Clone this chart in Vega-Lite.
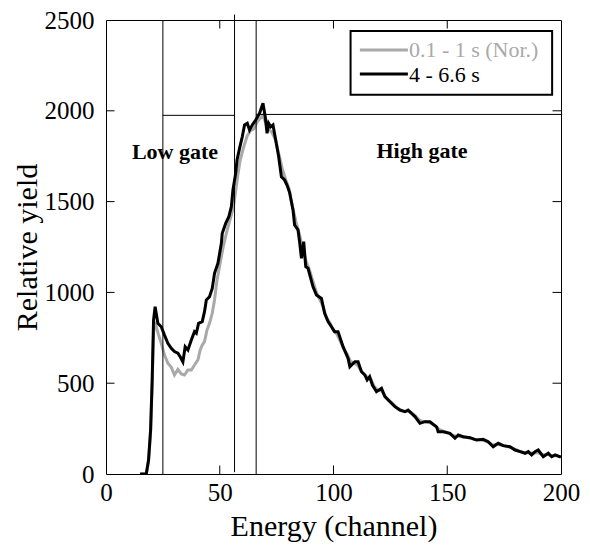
{
  "$schema": "https://vega.github.io/schema/vega-lite/v6.json",
  "autosize": {"type": "none"},
  "width": 455,
  "height": 454,
  "padding": {"left": 106, "top": 20, "right": 29, "bottom": 71},
  "background": "white",
  "config": {
    "view": {"stroke": "black", "strokeWidth": 1},
    "font": "Liberation Serif",
    "axis": {"grid": false, "domain": false, "ticks": false, "labelFont": "Liberation Serif", "titleFont": "Liberation Serif"}
  },
  "datasets": {
    "black": [
      {"ch":15,"yield":0},{"ch":17.7,"yield":0},{"ch":18.7,"yield":77},{"ch":19.6,"yield":242},{"ch":20.3,"yield":518},{"ch":20.9,"yield":848},{"ch":21.6,"yield":921},{"ch":22.8,"yield":830},{"ch":24.3,"yield":811},{"ch":25.7,"yield":765},{"ch":27.2,"yield":720},{"ch":28.7,"yield":692},{"ch":30.1,"yield":674},{"ch":31.6,"yield":665},{"ch":32.6,"yield":646},{"ch":33.8,"yield":618},{"ch":34.8,"yield":701},{"ch":36,"yield":683},{"ch":37.5,"yield":738},{"ch":38.9,"yield":784},{"ch":39.7,"yield":775},{"ch":40.7,"yield":830},{"ch":42.3,"yield":839},{"ch":43.3,"yield":894},{"ch":44.1,"yield":958},{"ch":45.5,"yield":976},{"ch":46.7,"yield":1022},{"ch":47.7,"yield":1105},{"ch":49.2,"yield":1160},{"ch":50.7,"yield":1270},{"ch":51.1,"yield":1325},{"ch":52.6,"yield":1380},{"ch":54,"yield":1417},{"ch":55.1,"yield":1472},{"ch":55.8,"yield":1564},{"ch":57,"yield":1656},{"ch":57.6,"yield":1729},{"ch":58.7,"yield":1793},{"ch":59.9,"yield":1857},{"ch":60.9,"yield":1922},{"ch":62.1,"yield":1931},{"ch":63.1,"yield":1894},{"ch":64.3,"yield":1922},{"ch":65.8,"yield":1949},{"ch":67.5,"yield":1986},{"ch":69,"yield":2041},{"ch":70,"yield":1967},{"ch":70.8,"yield":1876},{"ch":71.5,"yield":1931},{"ch":72.4,"yield":1912},{"ch":73.4,"yield":1922},{"ch":74.6,"yield":1839},{"ch":75.9,"yield":1747},{"ch":77.1,"yield":1637},{"ch":78.5,"yield":1619},{"ch":79.6,"yield":1590},{"ch":80.7,"yield":1550},{"ch":82.2,"yield":1454},{"ch":82.9,"yield":1371},{"ch":84.4,"yield":1344},{"ch":85.1,"yield":1279},{"ch":85.9,"yield":1188},{"ch":86.9,"yield":1279},{"ch":87.8,"yield":1142},{"ch":88.8,"yield":1133},{"ch":91,"yield":1031},{"ch":92.5,"yield":986},{"ch":94.7,"yield":967},{"ch":96.1,"yield":885},{"ch":97.6,"yield":839},{"ch":99.1,"yield":811},{"ch":100.5,"yield":784},{"ch":102,"yield":784},{"ch":104.2,"yield":701},{"ch":106.4,"yield":637},{"ch":107.2,"yield":591},{"ch":109.4,"yield":618},{"ch":110.8,"yield":618},{"ch":112.3,"yield":563},{"ch":113.8,"yield":545},{"ch":114.8,"yield":518},{"ch":115.9,"yield":536},{"ch":117.1,"yield":490},{"ch":118.9,"yield":453},{"ch":121.1,"yield":472},{"ch":122.6,"yield":426},{"ch":124.8,"yield":398},{"ch":127,"yield":371},{"ch":129.2,"yield":352},{"ch":131.4,"yield":343},{"ch":132.8,"yield":352},{"ch":134.3,"yield":334},{"ch":135.8,"yield":316},{"ch":138,"yield":279},{"ch":140.2,"yield":288},{"ch":142.4,"yield":288},{"ch":145.3,"yield":260},{"ch":146,"yield":233},{"ch":148.2,"yield":233},{"ch":151.2,"yield":224},{"ch":153.4,"yield":197},{"ch":154.8,"yield":215},{"ch":157,"yield":205},{"ch":160,"yield":200},{"ch":162.9,"yield":187},{"ch":165.8,"yield":191},{"ch":168,"yield":178},{"ch":170.2,"yield":150},{"ch":172.4,"yield":169},{"ch":174.6,"yield":156},{"ch":177.6,"yield":150},{"ch":179.8,"yield":132},{"ch":182,"yield":123},{"ch":184.2,"yield":114},{"ch":185.6,"yield":123},{"ch":187.1,"yield":105},{"ch":188.6,"yield":123},{"ch":190,"yield":132},{"ch":192.2,"yield":95},{"ch":194.4,"yield":114},{"ch":195.9,"yield":95},{"ch":197.4,"yield":105},{"ch":199.6,"yield":95},{"ch":200,"yield":92}
    ],
    "gray": [
      {"ch":15,"yield":0},{"ch":17.7,"yield":0},{"ch":18.7,"yield":70},{"ch":19.6,"yield":230},{"ch":20.3,"yield":500},{"ch":20.9,"yield":780},{"ch":21.6,"yield":840},{"ch":22.1,"yield":811},{"ch":23,"yield":770},{"ch":24.3,"yield":720},{"ch":25.7,"yield":655},{"ch":27.2,"yield":610},{"ch":28.7,"yield":588},{"ch":30.1,"yield":545},{"ch":31.6,"yield":576},{"ch":33.1,"yield":551},{"ch":34.5,"yield":545},{"ch":36,"yield":573},{"ch":37.5,"yield":573},{"ch":38.9,"yield":600},{"ch":40.4,"yield":628},{"ch":41.4,"yield":683},{"ch":42.3,"yield":710},{"ch":43.3,"yield":729},{"ch":44.4,"yield":793},{"ch":45.5,"yield":830},{"ch":46.7,"yield":885},{"ch":47.7,"yield":958},{"ch":48.8,"yield":1068},{"ch":50,"yield":1150},{"ch":51.5,"yield":1250},{"ch":53,"yield":1330},{"ch":54.5,"yield":1400},{"ch":56,"yield":1470},{"ch":57,"yield":1560},{"ch":58,"yield":1650},{"ch":59,"yield":1730},{"ch":60.5,"yield":1800},{"ch":62,"yield":1860},{"ch":63.5,"yield":1890},{"ch":65,"yield":1900},{"ch":66.5,"yield":1940},{"ch":68,"yield":1960},{"ch":69,"yield":1975},{"ch":70,"yield":1940},{"ch":71.5,"yield":1900},{"ch":73,"yield":1880},{"ch":74.5,"yield":1840},{"ch":76,"yield":1760},{"ch":77.5,"yield":1680},{"ch":79,"yield":1620},{"ch":80.5,"yield":1570},{"ch":82,"yield":1470},{"ch":83.5,"yield":1390},{"ch":85,"yield":1320},{"ch":86.5,"yield":1240},{"ch":88,"yield":1170},{"ch":89.5,"yield":1120},{"ch":91,"yield":1060},{"ch":92.5,"yield":1000},{"ch":94,"yield":960},{"ch":95.5,"yield":920},{"ch":97,"yield":860},{"ch":98.5,"yield":830},{"ch":100,"yield":790},{"ch":101.5,"yield":770},{"ch":103,"yield":730},{"ch":104.5,"yield":690},{"ch":106,"yield":660},{"ch":107.5,"yield":620},{"ch":109,"yield":610},{"ch":110.5,"yield":600},{"ch":112,"yield":570},{"ch":113.5,"yield":550},{"ch":115,"yield":530},{"ch":116.5,"yield":520},{"ch":118,"yield":480},{"ch":119.5,"yield":460},{"ch":121,"yield":460},{"ch":122.5,"yield":430},{"ch":124,"yield":410},{"ch":125.5,"yield":395},{"ch":127,"yield":375},{"ch":128.5,"yield":360},{"ch":130,"yield":350},{"ch":131.5,"yield":345},{"ch":133,"yield":345},{"ch":134.5,"yield":335},{"ch":136,"yield":320},{"ch":137.5,"yield":300},{"ch":139,"yield":290},{"ch":140.5,"yield":288},{"ch":142,"yield":285},{"ch":143.5,"yield":275},{"ch":145,"yield":262},{"ch":146.5,"yield":245},{"ch":148,"yield":238},{"ch":150,"yield":228},{"ch":152,"yield":215},{"ch":154,"yield":208},{"ch":156,"yield":205},{"ch":158,"yield":202},{"ch":160,"yield":198},{"ch":162,"yield":190},{"ch":164,"yield":188},{"ch":166,"yield":185},{"ch":168,"yield":175},{"ch":170,"yield":160},{"ch":172,"yield":165},{"ch":174,"yield":158},{"ch":176,"yield":152},{"ch":178,"yield":145},{"ch":180,"yield":135},{"ch":182,"yield":125},{"ch":184,"yield":118},{"ch":186,"yield":115},{"ch":188,"yield":115},{"ch":190,"yield":118},{"ch":192,"yield":105},{"ch":194,"yield":108},{"ch":196,"yield":100},{"ch":198,"yield":100},{"ch":200,"yield":95}
    ],
    "xticks": [{"v":50},{"v":100},{"v":150}],
    "yticks": [{"v":500},{"v":1000},{"v":1500},{"v":2000}],
    "gates": [
      {"x1":25,"x2":25,"y1":0,"y2":2500},
      {"x1":56.5,"x2":56.5,"y1":10,"y2":2530},
      {"x1":66,"x2":66,"y1":0,"y2":2500},
      {"x1":25,"x2":56.5,"y1":1975,"y2":1975},
      {"x1":66,"x2":200.5,"y1":1980,"y2":1980}
    ],
    "gatelabels": [
      {"x":11.4,"y":1735,"label":"Low gate"},
      {"x":118.9,"y":1738,"label":"High gate"}
    ],
    "legbox": [{"x1":107.5,"x2":196.1,"y1":2088,"y2":2440}],
    "legitems": [
      {"x1":111.6,"x2":132.7,"y":2335,"ty":2298,"series":"0.1 - 1 s (Nor.)"},
      {"x1":111.6,"x2":132.7,"y":2203,"ty":2160,"series":"4 - 6.6 s"}
    ]
  },
  "layer": [
    {
      "data": {"name": "gray"},
      "mark": {"type": "line", "color": "#a9a9a9", "strokeWidth": 3, "clip": true},
      "encoding": {
        "x": {"field": "ch", "type": "quantitative", "scale": {"domain": [0, 200], "nice": false},
          "axis": {"orient": "bottom", "values": [0, 50, 100, 150, 200], "format": "d", "ticks": false, "domain": false, "grid": false,
            "labelFont": "Liberation Serif", "labelFontSize": 25, "labelColor": "black", "labelFlush": false, "labelOverlap": false, "labelPadding": 6,
            "title": "Energy (channel)", "titleFont": "Liberation Serif", "titleFontSize": 30, "titleFontWeight": "normal", "titleColor": "black",
            "titleY": 61, "titleBaseline": "alphabetic"}},
        "y": {"field": "yield", "type": "quantitative", "scale": {"domain": [0, 2500], "nice": false},
          "axis": {"orient": "left", "values": [0, 500, 1000, 1500, 2000, 2500], "format": "d", "ticks": false, "domain": false, "grid": false,
            "labelFont": "Liberation Serif", "labelFontSize": 25, "labelColor": "black", "labelFlush": false, "labelOverlap": false, "labelPadding": 12, "labelBaseline": "middle",
            "title": "Relative yield", "titleFont": "Liberation Serif", "titleFontSize": 30, "titleFontWeight": "normal", "titleColor": "black",
            "titleX": -70, "titleY": 227, "titleAlign": "center", "titleAngle": -90, "titleBaseline": "alphabetic"}}
      }
    },
    {
      "data": {"name": "gates"},
      "mark": {"type": "rule", "color": "black", "strokeWidth": 1},
      "encoding": {
        "x": {"field": "x1", "type": "quantitative"},
        "x2": {"field": "x2"},
        "y": {"field": "y1", "type": "quantitative"},
        "y2": {"field": "y2"}
      }
    },
    {
      "data": {"name": "xticks"},
      "layer": [
        {"mark": {"type": "tick", "orient": "vertical", "size": 17, "thickness": 1, "color": "black", "opacity": 1, "clip": true},
         "encoding": {"x": {"field": "v", "type": "quantitative"}, "y": {"datum": 0, "type": "quantitative"}}},
        {"mark": {"type": "tick", "orient": "vertical", "size": 17, "thickness": 1, "color": "black", "opacity": 1, "clip": true},
         "encoding": {"x": {"field": "v", "type": "quantitative"}, "y": {"datum": 2500, "type": "quantitative"}}}
      ]
    },
    {
      "data": {"name": "yticks"},
      "layer": [
        {"mark": {"type": "tick", "orient": "horizontal", "size": 17, "thickness": 1, "color": "black", "opacity": 1, "clip": true},
         "encoding": {"y": {"field": "v", "type": "quantitative"}, "x": {"datum": 0, "type": "quantitative"}}},
        {"mark": {"type": "tick", "orient": "horizontal", "size": 17, "thickness": 1, "color": "black", "opacity": 1, "clip": true},
         "encoding": {"y": {"field": "v", "type": "quantitative"}, "x": {"datum": 200, "type": "quantitative"}}}
      ]
    },
    {
      "data": {"name": "black"},
      "mark": {"type": "line", "color": "black", "strokeWidth": 3, "clip": true},
      "encoding": {
        "x": {"field": "ch", "type": "quantitative"},
        "y": {"field": "yield", "type": "quantitative"}
      }
    },
    {
      "data": {"name": "gatelabels"},
      "mark": {"type": "text", "font": "Liberation Serif", "fontSize": 22, "fontWeight": "bold", "align": "left", "baseline": "alphabetic", "color": "black"},
      "encoding": {
        "x": {"field": "x", "type": "quantitative"},
        "y": {"field": "y", "type": "quantitative"},
        "text": {"field": "label"}
      }
    },
    {
      "data": {"name": "legbox"},
      "mark": {"type": "rect", "fill": "white", "stroke": "black", "strokeWidth": 2},
      "encoding": {
        "x": {"field": "x1", "type": "quantitative"},
        "x2": {"field": "x2"},
        "y": {"field": "y1", "type": "quantitative"},
        "y2": {"field": "y2"}
      }
    },
    {
      "data": {"name": "legitems"},
      "mark": {"type": "rule", "strokeWidth": 3},
      "encoding": {
        "x": {"field": "x1", "type": "quantitative"},
        "x2": {"field": "x2"},
        "y": {"field": "y", "type": "quantitative"},
        "color": {"field": "series", "type": "nominal", "scale": {"domain": ["0.1 - 1 s (Nor.)", "4 - 6.6 s"], "range": ["#a9a9a9", "black"]}, "legend": null}
      }
    },
    {
      "data": {"name": "legitems"},
      "mark": {"type": "text", "font": "Liberation Serif", "fontSize": 22, "align": "left", "baseline": "alphabetic", "dx": 1},
      "encoding": {
        "x": {"field": "x2", "type": "quantitative"},
        "y": {"field": "ty", "type": "quantitative"},
        "text": {"field": "series"},
        "color": {"field": "series", "type": "nominal", "legend": null}
      }
    }
  ]
}
